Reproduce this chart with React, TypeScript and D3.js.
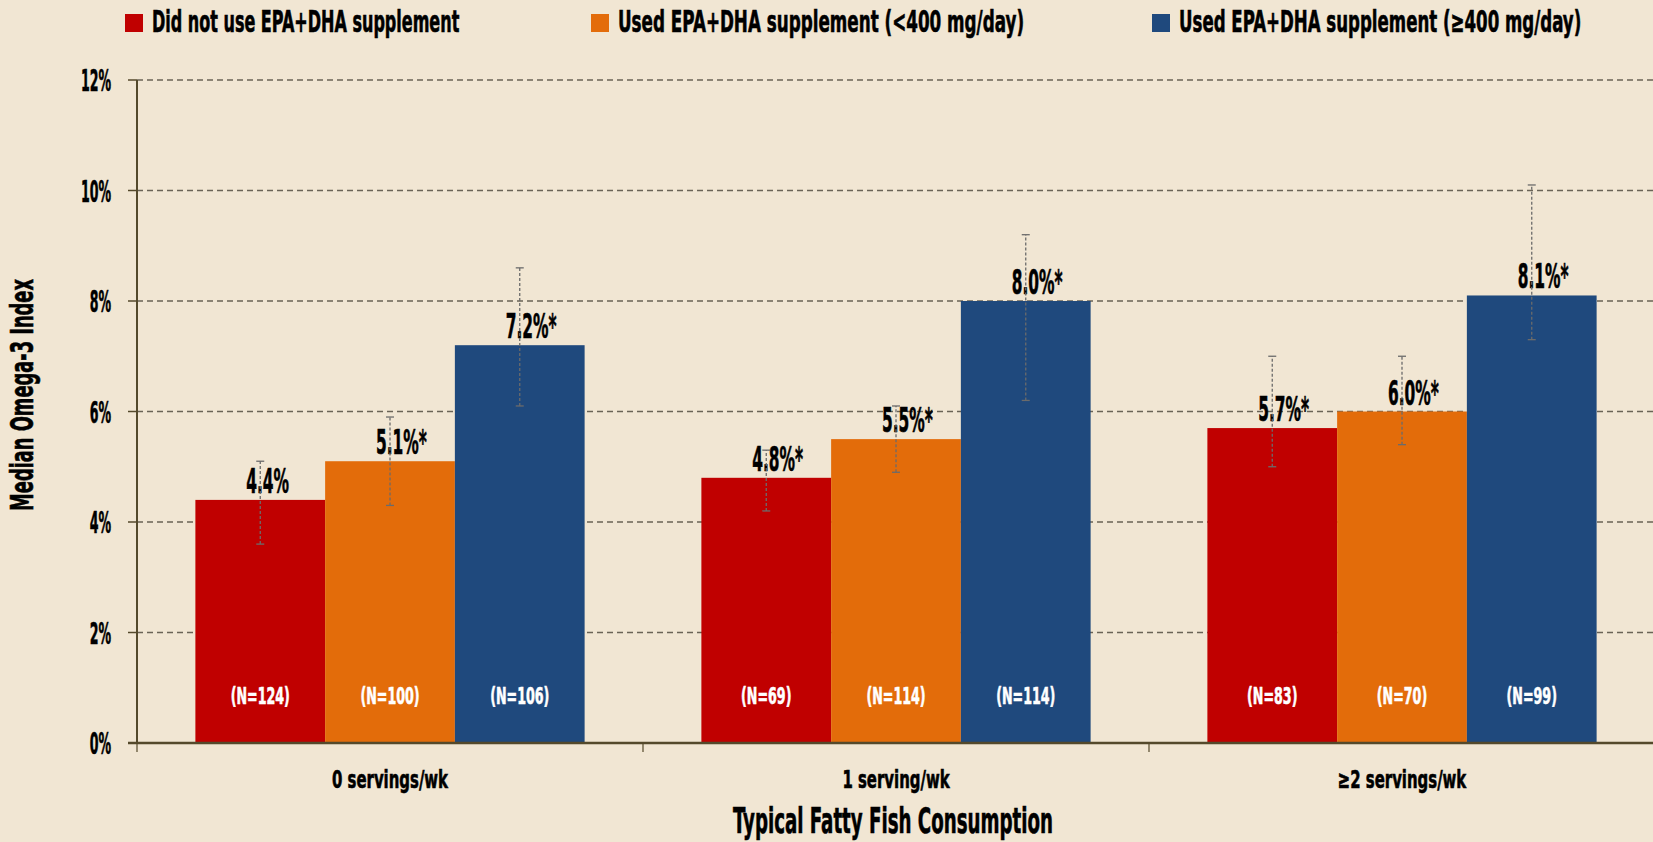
import React from "react";
import * as d3 from "d3";

const categories = ["0 servings/wk", "1 serving/wk", "≥2 servings/wk"];
const seriesKeys = ["none", "low", "high"];
const seriesNames = [
  "Did not use EPA+DHA supplement",
  "Used EPA+DHA supplement (<400 mg/day)",
  "Used EPA+DHA supplement (≥400 mg/day)",
];
const seriesColors = ["#C00000", "#E36C0A", "#1F497D"];

// medians (%)
const noneValues = [4.4, 4.8, 5.7];
const lowValues = [5.1, 5.5, 6.0];
const highValues = [7.2, 8.0, 8.1];

// error bar ends (%)
const noneLower = [3.6, 4.2, 5.0];
const noneUpper = [5.1, 5.3, 7.0];
const lowLower = [4.3, 4.9, 5.4];
const lowUpper = [5.9, 6.1, 7.0];
const highLower = [6.1, 6.2, 7.3];
const highUpper = [8.6, 9.2, 10.1];

// sample sizes
const noneN = [124, 69, 83];
const lowN = [100, 114, 70];
const highN = [106, 114, 99];

// significance marker
const noneSig = [false, true, true];
const lowSig = [true, true, true];
const highSig = [true, true, true];

const yTicks = [0, 2, 4, 6, 8, 10, 12];

const WIDTH = 1653;
const HEIGHT = 842;
const BG = "#F1E6D3";
const AXIS = "#54492B";
const FONT = "'DejaVu Sans Condensed', 'Liberation Sans Narrow', 'Arial Narrow', sans-serif";

const series = [
  { key: "none", values: noneValues, lower: noneLower, upper: noneUpper, n: noneN, sig: noneSig },
  { key: "low", values: lowValues, lower: lowLower, upper: lowUpper, n: lowN, sig: lowSig },
  { key: "high", values: highValues, lower: highLower, upper: highUpper, n: highN, sig: highSig },
];

// condensed heavy text (the original uses a very narrow display face)
function CText({ x, y, size, sx, anchor = "middle", fill = "#000", rotate = 0, children }: any) {
  return (
    <text
      transform={`translate(${x},${y}) rotate(${rotate}) scale(${sx},1)`}
      fontFamily={FONT}
      fontWeight="bold"
      fontSize={size}
      textAnchor={anchor}
      fill={fill}
      stroke={fill}
      strokeWidth={0.6}
    >
      {children}
    </text>
  );
}

export default function App() {
  const plot = { left: 137, right: 1655, top: 80, bottom: 743 };

  const x0 = d3.scaleBand<string>().domain(categories).range([plot.left, plot.right]).padding(0);
  const x1 = d3
    .scaleBand<string>()
    .domain(seriesKeys)
    .range([0, x0.bandwidth()])
    .paddingInner(0)
    .paddingOuter(0.45);
  const y = d3.scaleLinear().domain([0, 12]).range([plot.bottom, plot.top]);

  const legendX = [125, 591, 1152];
  const legendSx = [0.594, 0.622, 0.616];

  return (
    <div style={{ position: "fixed", inset: 0, background: BG }}>
      <svg width={WIDTH} height={HEIGHT} style={{ display: "block" }}>
        <rect width={WIDTH} height={HEIGHT} fill={BG} />

        {/* legend */}
        {seriesNames.map((name, i) => (
          <g key={name}>
            <rect x={legendX[i]} y={14} width={18} height={18} fill={seriesColors[i]} />
            <CText x={legendX[i] + 27} y={32} size={30} sx={legendSx[i]} anchor="start">
              {name}
            </CText>
          </g>
        ))}

        {/* gridlines */}
        {yTicks
          .filter((t) => t > 0)
          .map((t) => (
            <line
              key={t}
              x1={plot.left}
              x2={WIDTH}
              y1={y(t)}
              y2={y(t)}
              stroke="#6A6356"
              strokeWidth={1.3}
              strokeDasharray="6 4"
            />
          ))}

        {/* y tick labels + ticks */}
        {yTicks.map((t) => (
          <g key={t}>
            <line x1={plot.left - 9} x2={plot.left} y1={y(t)} y2={y(t)} stroke={AXIS} strokeWidth={1.5} />
            <CText x={111} y={y(t) + 11} size={30} sx={0.466} anchor="end">
              {t}%
            </CText>
          </g>
        ))}

        {/* bars */}
        {categories.map((cat, ci) => (
          <g key={cat} transform={`translate(${x0(cat)},0)`}>
            {series.map((s, si) => (
              <rect
                key={s.key}
                x={x1(s.key)}
                y={y(s.values[ci])}
                width={x1.bandwidth()}
                height={y(0) - y(s.values[ci])}
                fill={seriesColors[si]}
              />
            ))}
          </g>
        ))}

        {/* value labels */}
        {categories.map((cat, ci) => (
          <g key={cat} transform={`translate(${x0(cat)},0)`}>
            {series.map((s) => (
              <CText
                key={s.key}
                x={(x1(s.key) as number) + x1.bandwidth() / 2 - 14}
                y={y(s.values[ci]) - 7}
                size={34}
                sx={0.504}
                anchor="start"
              >
                {s.values[ci].toFixed(1)}%{s.sig[ci] ? "*" : ""}
              </CText>
            ))}
          </g>
        ))}

        {/* error bars */}
        {categories.map((cat, ci) => (
          <g key={cat} transform={`translate(${x0(cat)},0)`}>
            {series.map((s) => {
              const cx = (x1(s.key) as number) + x1.bandwidth() / 2;
              return (
                <g key={s.key} stroke="#6B6B6B" strokeWidth={1.3}>
                  <line x1={cx} x2={cx} y1={y(s.lower[ci])} y2={y(s.upper[ci])} strokeDasharray="3 2" />
                  <line x1={cx - 4} x2={cx + 4} y1={y(s.lower[ci])} y2={y(s.lower[ci])} />
                  <line x1={cx - 4} x2={cx + 4} y1={y(s.upper[ci])} y2={y(s.upper[ci])} />
                </g>
              );
            })}
          </g>
        ))}

        {/* N labels */}
        {categories.map((cat, ci) => (
          <g key={cat} transform={`translate(${x0(cat)},0)`}>
            {series.map((s) => (
              <CText
                key={s.key}
                x={(x1(s.key) as number) + x1.bandwidth() / 2}
                y={704}
                size={23}
                sx={0.612}
                fill="#FFFFFF"
              >
                (N={s.n[ci]})
              </CText>
            ))}
          </g>
        ))}

        {/* axes */}
        <line x1={plot.left} x2={plot.left} y1={plot.top} y2={plot.bottom} stroke={AXIS} strokeWidth={2} />
        <line x1={plot.left - 9} x2={WIDTH} y1={plot.bottom} y2={plot.bottom} stroke={AXIS} strokeWidth={2.5} />
        {categories.map((cat) => (
          <line
            key={cat}
            x1={x0(cat)}
            x2={x0(cat)}
            y1={plot.bottom}
            y2={plot.bottom + 9}
            stroke={AXIS}
            strokeWidth={1.2}
          />
        ))}

        {/* category labels */}
        {categories.map((cat) => (
          <CText key={cat} x={(x0(cat) as number) + x0.bandwidth() / 2} y={788} size={25} sx={0.663}>
            {cat}
          </CText>
        ))}

        {/* axis titles */}
        <CText x={893} y={833} size={35} sx={0.579}>
          Typical Fatty Fish Consumption
        </CText>
        <CText x={33} y={395} size={32} sx={0.619} rotate={-90}>
          Median Omega-3 Index
        </CText>
      </svg>
    </div>
  );
}
